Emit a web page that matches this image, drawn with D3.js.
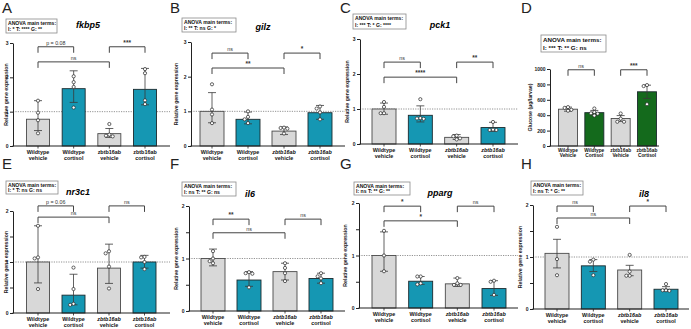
<!DOCTYPE html>
<html>
<head>
<meta charset="utf-8">
<script src="https://cdn.jsdelivr.net/npm/d3@7"></script>
<style>
  body { margin: 0; background: #fff; }
  svg { display: block; font-family: "Liberation Sans", Arial, sans-serif; }
</style>
</head>
<body>
<svg id="fig" width="691" height="329"></svg>
<script>
// group labels (two lines each)
const groups = [["Wildtype", "vehicle"], ["Wildtype", "cortisol"], ["zbtb16ab", "vehicle"], ["zbtb16ab", "cortisol"]];
const glucoseGroups = [["Wildtype", "Vehicle"], ["Wildtype", "Cortisol"], ["zbtb16ab", "Vehicle"], ["zbtb16ab", "Cortisol"]];

const geneTicks = [0, 1, 2, 3];
const geneTicksSmall = [0, 1, 2];
const geneMinorSmall = [0.5, 1.5];
const glucoseTicks = [0, 200, 400, 600, 800, 1000];

// fkbp5
const fkbp5Mean = [0.78, 1.67, 0.36, 1.65];
const fkbp5Hi = [1.32, 2.19, 0.51, 2.26];
const fkbp5Lo = [0.45, 1.27, 0.25, 1.2];
const fkbp5Pts = [[1.32, 0.97, 0.75, 0.37], [2.03, 1.86, 1.72, 1.12], [0.64, 0.33, 0.28, 0.3], [2.24, 2.12, 1.33, 1.22]];
const fkbp5Sig = [[0, 1, "p = 0.08", 2.89], [2, 3, "***", 2.89], [0, 2, "ns", 2.45]];
const fkbp5Anova = "I: * T: **** G: **";

// gilz
const gilzMean = [1.0, 0.77, 0.43, 0.96];
const gilzHi = [1.54, 0.98, 0.55, 1.17];
const gilzLo = [0.67, 0.64, 0.33, 0.77];
const gilzPts = [[1.78, 1.05, 0.91, 0.66], [1.0, 0.84, 0.77, 0.66], [0.53, 0.52, 0.5, 0.36], [1.14, 1.08, 0.97, 0.77]];
const gilzSig = [[0, 1, "ns", 2.68], [2, 3, "*", 2.68], [0, 2, "**", 2.25]];
const gilzAnova = "I: ** T: ns G: *";

// pck1
const pck1Mean = [1.0, 0.82, 0.19, 0.47];
const pck1Hi = [1.17, 1.09, 0.27, 0.62];
const pck1Lo = [0.85, 0.63, 0.13, 0.36];
const pck1Pts = [[1.2, 1.06, 0.88, 0.88], [1.28, 0.74, 0.73, 0.72], [0.24, 0.22, 0.16, 0.13], [0.63, 0.41, 0.4, 0.4]];
const pck1Sig = [[0, 1, "ns", 2.34], [2, 3, "**", 2.34], [0, 2, "****", 1.91]];
const pck1Anova = "I: *** T: * G: ****";

// whole-larva glucose
const glucoseMean = [478, 433, 357, 704];
const glucoseHi = [505, 462, 395, 790];
const glucoseLo = [452, 404, 320, 618];
const glucosePts = [[505, 495, 470, 458], [487, 440, 425, 420, 395], [422, 355, 315, 315], [791, 778, 543]];
const glucoseSig = [[0, 1, "ns", 990], [2, 3, "***", 990]];
const glucoseAnova = "I: *** T: ** G: ns";

// nr3c1
const nr3c1Mean = [1.0, 0.35, 0.88, 1.0];
const nr3c1Hi = [1.71, 0.76, 1.35, 1.13];
const nr3c1Lo = [0.59, 0.16, 0.58, 0.88];
const nr3c1Pts = [[1.71, 1.09, 1.07, 0.47], [0.89, 0.47, 0.18, 0.16], [1.21, 1.17, 0.91, 0.48], [1.1, 1.09, 1.0, 0.86]];
const nr3c1Sig = [[0, 1, "p = 0.06", 2.1], [2, 3, "ns", 2.1], [0, 2, "ns", 1.88]];
const nr3c1Anova = "I: * T: ns G: ns";

// il6
const il6Mean = [1.0, 0.59, 0.75, 0.62];
const il6Hi = [1.18, 0.75, 0.91, 0.72];
const il6Lo = [0.86, 0.47, 0.59, 0.53];
const il6Pts = [[1.14, 1.0, 0.95, 0.91], [0.74, 0.72, 0.71, 0.45], [0.91, 0.82, 0.72, 0.57], [0.72, 0.66, 0.62, 0.53]];
const il6Sig = [[0, 1, "**", 1.75], [2, 3, "ns", 1.75], [0, 2, "ns", 1.49]];
const il6Anova = "I: ns T: ** G: ns";

// pparg
const ppargMean = [1.0, 0.51, 0.46, 0.37];
const ppargHi = [1.45, 0.6, 0.57, 0.52];
const ppargLo = [0.7, 0.45, 0.41, 0.24];
const ppargPts = [[1.47, 1.0, 0.7], [0.6, 0.6, 0.47, 0.45], [0.57, 0.47, 0.44, 0.44], [0.52, 0.5, 0.25]];
const ppargSig = [[0, 1, "*", 1.94], [2, 3, "ns", 1.94], [0, 2, "*", 1.66]];
const ppargAnova = "I: ns T: ** G: **";

// il8
const il8Mean = [1.07, 0.83, 0.75, 0.38];
const il8Hi = [1.34, 0.95, 0.84, 0.43];
const il8Lo = [0.79, 0.72, 0.64, 0.34];
const il8Pts = [[1.58, 0.96, 0.65], [0.95, 0.91, 0.65], [1.04, 0.72, 0.64, 0.64], [0.48, 0.36, 0.36, 0.35]];
const il8Sig = [[0, 1, "ns", 1.98], [2, 3, "*", 1.98], [0, 2, "ns", 1.75]];
const il8Anova = "I: ns T: * G: **";

const GREY = "#d8d8d8", TEAL = "#1597b3", GREEN = "#146a1c";

const panels = [
  { letter: "A", lx: 2, ly: 13, gene: "fkbp5", mean: fkbp5Mean, hi: fkbp5Hi, lo: fkbp5Lo, pts: fkbp5Pts, sig: fkbp5Sig, anova: fkbp5Anova,
    ax: 13, xEnd: 170, y0: 146, y1: 43, max: 3, ticks: geneTicks, c0: 38, c3: 145, bw: 23,
    box: [6, 19, 51, 14], title: [88, 28], yt: 7, fill: TEAL, italic: false },
  { letter: "B", lx: 170, ly: 13, gene: "gilz", mean: gilzMean, hi: gilzHi, lo: gilzLo, pts: gilzPts, sig: gilzSig, anova: gilzAnova,
    ax: 191, xEnd: 345, y0: 146, y1: 42, max: 3, ticks: geneTicks, c0: 212, c3: 320, bw: 24,
    box: [182, 18, 54, 14], title: [263, 30], yt: 177, fill: TEAL, italic: true },
  { letter: "C", lx: 340, ly: 13, gene: "pck1", mean: pck1Mean, hi: pck1Hi, lo: pck1Lo, pts: pck1Pts, sig: pck1Sig, anova: pck1Anova,
    ax: 360, xEnd: 518, y0: 144, y1: 39, max: 3, ticks: geneTicks, c0: 384, c3: 493, bw: 24,
    box: [353, 14, 53, 15], title: [440, 28], yt: 348, fill: TEAL, italic: true },
  { letter: "D", lx: 521, ly: 13, gene: null, mean: glucoseMean, hi: glucoseHi, lo: glucoseLo, pts: glucosePts, sig: glucoseSig, anova: glucoseAnova,
    ax: 550, xEnd: 659, y0: 146, y1: 69, max: 1000, ticks: glucoseTicks, c0: 568, c3: 647, bw: 19,
    box: [541, 35, 65, 17], yt: 531, fill: GREEN, italic: false, glucose: true },
  { letter: "E", lx: 2, ly: 169, gene: "nr3c1", mean: nr3c1Mean, hi: nr3c1Hi, lo: nr3c1Lo, pts: nr3c1Pts, sig: nr3c1Sig, anova: nr3c1Anova,
    ax: 13, xEnd: 170, y0: 313, y1: 211, max: 2, ticks: geneTicksSmall, minor: geneMinorSmall, c0: 38, c3: 144.5, bw: 23,
    box: [6, 181, 52, 13], title: [78, 195], yt: 7, fill: TEAL, italic: true },
  { letter: "F", lx: 170, ly: 169, gene: "il6", mean: il6Mean, hi: il6Hi, lo: il6Lo, pts: il6Pts, sig: il6Sig, anova: il6Anova,
    ax: 189, xEnd: 345, y0: 311, y1: 206, max: 2, ticks: geneTicksSmall, minor: geneMinorSmall, c0: 213, c3: 321, bw: 24,
    box: [182, 182, 54, 14], title: [250, 197], yt: 177, fill: TEAL, italic: true },
  { letter: "G", lx: 340, ly: 169, gene: "pparg", mean: ppargMean, hi: ppargHi, lo: ppargLo, pts: ppargPts, sig: ppargSig, anova: ppargAnova,
    ax: 359, xEnd: 518, y0: 308, y1: 203, max: 2, ticks: geneTicksSmall, minor: geneMinorSmall, c0: 384, c3: 494, bw: 24,
    box: [354, 182, 56, 13], title: [440, 196], yt: 346, fill: TEAL, italic: true },
  { letter: "H", lx: 521, ly: 169, gene: "il8", mean: il8Mean, hi: il8Hi, lo: il8Lo, pts: il8Pts, sig: il8Sig, anova: il8Anova,
    ax: 533, xEnd: 689, y0: 309, y1: 205, max: 2, ticks: geneTicksSmall, minor: geneMinorSmall, c0: 557, c3: 666, bw: 24,
    box: [531, 181, 52, 14], title: [644, 197], yt: 521, fill: TEAL, italic: true }
];

const svg = d3.select("#fig");

// spread overlapping dots sideways so each stays visible
function swarm(values, y, r) {
  const placed = [];
  const order = values.map((v, i) => i).sort((a, b) => values[b] - values[a]);
  const dx = new Array(values.length).fill(0);
  order.forEach(i => {
    const py = y(values[i]);
    for (const off of [0, -r * 2.1, r * 2.1, -r * 4.2, r * 4.2]) {
      if (placed.every(p => Math.hypot(p[0] - off, p[1] - py) >= r * 2)) {
        dx[i] = off; placed.push([off, py]); break;
      }
    }
  });
  return dx;
}

function drawPanel(p) {
  const g = svg.append("g");
  const x = d3.scalePoint().domain(d3.range(4)).range([p.c0, p.c3]);
  const y = d3.scaleLinear().domain([0, p.max]).range([p.y0, p.y1]);

  g.append("text").attr("x", p.lx).attr("y", p.ly)
    .attr("font-size", 15).attr("fill", "#222").text(p.letter);

  // ANOVA summary box
  const [bx, by, bwid, bh] = p.box;
  const fs = p.glucose ? 6.2 : 5.1;
  g.append("rect").attr("x", bx).attr("y", by).attr("width", bwid).attr("height", bh)
    .attr("fill", "#fff").attr("stroke", "#8a8a8a").attr("stroke-width", 0.8);
  g.append("text").attr("x", bx + 2).attr("y", by + bh * 0.43)
    .attr("font-size", fs).attr("font-weight", "bold").attr("fill", "#111").text("ANOVA main terms:");
  g.append("text").attr("x", bx + 2).attr("y", by + bh * 0.86)
    .attr("font-size", fs).attr("font-weight", "bold").attr("fill", "#111").text(p.anova);

  if (p.gene) {
    g.append("text").attr("x", p.title[0]).attr("y", p.title[1])
      .attr("text-anchor", "middle").attr("font-size", 9)
      .attr("font-weight", "bold").attr("font-style", "italic").text(p.gene);
    // reference line at 1
    g.append("line").attr("x1", p.ax).attr("x2", p.xEnd)
      .attr("y1", y(1)).attr("y2", y(1))
      .attr("stroke", "#777").attr("stroke-width", 0.8).attr("stroke-dasharray", "1.2,1.2");
  }

  // bars
  g.selectAll("rect.bar").data(p.mean).join("rect").attr("class", "bar")
    .attr("x", (d, i) => x(i) - p.bw / 2).attr("y", d => y(d))
    .attr("width", p.bw).attr("height", d => p.y0 - y(d))
    .attr("fill", (d, i) => i % 2 ? p.fill : GREY)
    .attr("stroke", (d, i) => i % 2 ? "#1c2a2e" : "#4a4a4a")
    .attr("stroke-width", 0.9);

  // error bars
  const cap = 4;
  p.mean.forEach((m, i) => {
    const cx = x(i);
    g.append("path")
      .attr("d", `M${cx},${y(p.lo[i])}V${y(p.hi[i])}M${cx - cap},${y(p.hi[i])}H${cx + cap}M${cx - cap},${y(p.lo[i])}H${cx + cap}`)
      .attr("fill", "none").attr("stroke", "#3a3a3a").attr("stroke-width", 0.8);
  });

  // individual samples
  const r = 1.6;
  p.pts.forEach((vals, i) => {
    const dx = swarm(vals, y, r);
    g.selectAll(null).data(vals).join("circle")
      .attr("cx", (d, j) => x(i) + dx[j]).attr("cy", d => y(d)).attr("r", r)
      .attr("fill", "#fff").attr("stroke", "#222").attr("stroke-width", 0.7);
  });

  // y axis
  g.append("g").attr("transform", `translate(${p.ax},0)`)
    .call(d3.axisLeft(y).tickValues(p.ticks).tickSize(3).tickSizeOuter(0)
      .tickPadding(1.5).tickFormat(d3.format("d")));
  if (p.minor) {
    g.append("g").attr("transform", `translate(${p.ax},0)`)
      .call(d3.axisLeft(y).tickValues(p.minor).tickSize(3).tickFormat(""))
      .call(a => a.select(".domain").remove());
  }
  g.selectAll(".tick text").attr("font-size", 5).attr("font-weight", "bold").attr("fill", "#222")
    .attr("font-family", "Liberation Sans, Arial, sans-serif");
  g.selectAll(".tick line, .domain").attr("stroke", "#222").attr("stroke-width", 1);

  g.append("text")
    .attr("transform", `translate(${p.yt},${(p.y0 + p.y1) / 2}) rotate(-90)`)
    .attr("text-anchor", "middle").attr("dominant-baseline", "middle")
    .attr("font-size", 5.2).attr("font-weight", "bold").attr("fill", "#222")
    .text(p.glucose ? "Glucose (µg/larvae)" : "Relative gene expression");

  // x axis
  g.append("line").attr("x1", p.ax - 0.5).attr("x2", p.xEnd)
    .attr("y1", p.y0).attr("y2", p.y0).attr("stroke", "#222").attr("stroke-width", 1.1);
  const labels = p.glucose ? glucoseGroups : groups;
  labels.forEach((lab, i) => {
    g.append("line").attr("x1", x(i)).attr("x2", x(i))
      .attr("y1", p.y0).attr("y2", p.y0 + 2.5).attr("stroke", "#222").attr("stroke-width", 0.8);
    const t = g.append("text").attr("x", x(i)).attr("text-anchor", "middle")
      .attr("font-size", p.glucose ? 4.8 : 5.4).attr("font-weight", "bold").attr("fill", "#111");
    const l1 = p.glucose ? 5.5 : 7.5, l2 = p.glucose ? 10.5 : 13.5;
    t.append("tspan").attr("x", x(i)).attr("y", p.y0 + l1)
      .attr("font-style", i > 1 && p.italic ? "italic" : "normal").text(lab[0]);
    t.append("tspan").attr("x", x(i)).attr("y", p.y0 + l2).text(lab[1]);
  });

  // comparison brackets
  const drop = 6;
  p.sig.forEach(([a, b, label, v]) => {
    const yy = y(v);
    g.append("path")
      .attr("d", `M${x(a)},${yy + drop}V${yy}H${x(b)}V${yy + drop}`)
      .attr("fill", "none").attr("stroke", "#444").attr("stroke-width", 1);
    g.append("text").attr("x", (x(a) + x(b)) / 2).attr("y", yy - 2.2)
      .attr("text-anchor", "middle").attr("font-size", label.startsWith("*") ? 6.5 : 5.3)
      .attr("font-weight", label.startsWith("*") ? "bold" : "normal")
      .attr("fill", "#333").text(label);
  });
}

panels.forEach(drawPanel);
</script>
</body>
</html>
